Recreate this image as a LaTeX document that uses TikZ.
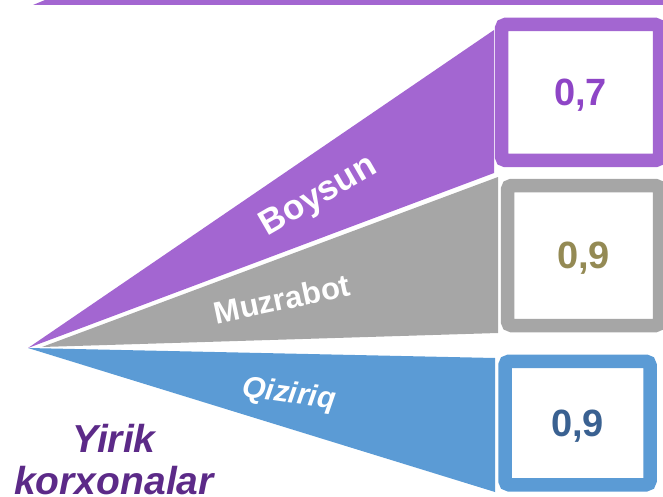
\documentclass[tikz,border=0pt]{standalone}
\usepackage{fontspec}
\setmainfont{Liberation Sans}
\definecolor{boyc}{HTML}{A366D1}
\definecolor{muzc}{HTML}{A6A6A6}
\definecolor{qizc}{HTML}{5B9BD5}
\definecolor{boytx}{HTML}{8E45C6}
\definecolor{muztx}{HTML}{948A54}
\definecolor{qiztx}{HTML}{3A6191}
\definecolor{titc}{HTML}{5C2A88}

\begin{document}
\begin{tikzpicture}[x=1pt, y=-1pt,
  valbox/.style={draw, line width=13.5pt, rounded corners=4pt, fill=white,
    text depth=0pt, font=\bfseries\fontsize{38}{40}\selectfont},
  wlabel/.style={text=white, font=\bfseries\fontsize{#1}{#1}\selectfont}]
  \useasboundingbox (0,0) rectangle (663,497);
  \coordinate (apex) at (28,348);
  % wedges
  \path[fill=boyc] (33,5) -- (45,0) -- (663,0) -- (663,5) -- cycle;
  \path[fill=boyc] (apex) -- (494,30) -- (494,173) -- cycle;
  \path[fill=muzc] (42,347) -- (498,177) -- (498,333) -- cycle;
  \path[fill=qizc] (apex) -- (495,358) -- (495,492) -- cycle;
  % value boxes
  \node[valbox, draw=boyc, text=boytx, minimum width=158pt, minimum height=136pt]
    (boysun) at (580.5,92.5) {0,7};
  \node[valbox, draw=muzc, text=muztx, minimum width=152pt, minimum height=140pt]
    (muzrabot) at (583.5,255.5) {0,9};
  \node[valbox, draw=qizc, text=qiztx, minimum width=145pt, minimum height=123.5pt]
    (qiziriq) at (577.5,423) {0,9};
  % wedge labels
  \node[wlabel=35, rotate=30] (lboysun) at (319,197) {Boysun};
  \node[wlabel=31, rotate=12] (lmuzrabot) at (282,299) {Muzrabot};
  \node[wlabel=30, rotate=-8, font=\bfseries\itshape\fontsize{30}{30}\selectfont]
    (lqiziriq) at (289,395) {Qiziriq};
  \node[text=titc, align=center, font=\bfseries\itshape\fontsize{39}{42}\selectfont]
    (title) at (114,460) {Yirik\\korxonalar};
\end{tikzpicture}
\end{document}
